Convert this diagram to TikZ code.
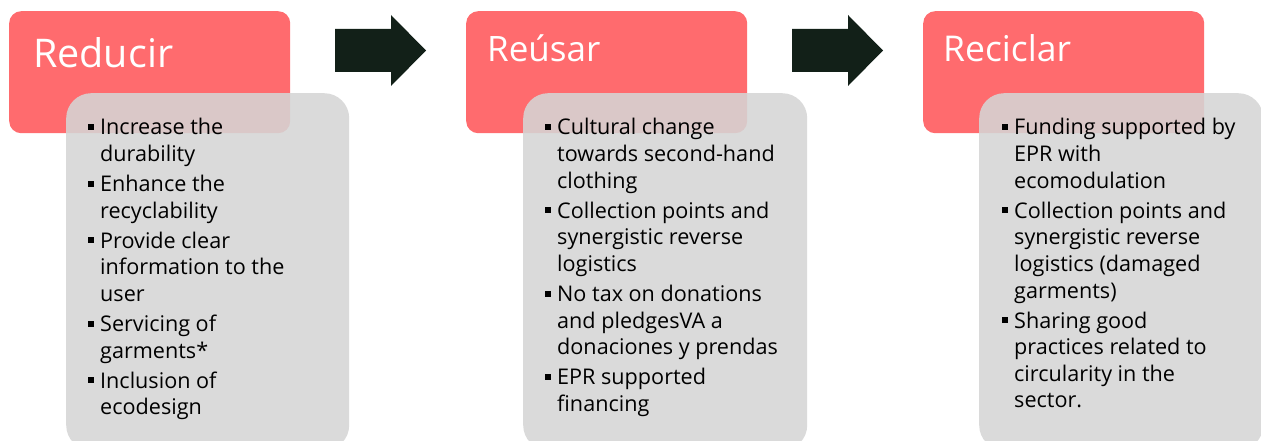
\documentclass[tikz,border=0pt]{standalone}
\usepackage{fontspec}
\setmainfont{Open Sans}
\definecolor{redfill}{RGB}{255,107,110}
\definecolor{grayfill}{RGB}{213,213,213}
\definecolor{arrowcol}{RGB}{18,32,24}
\newcommand{\bul}{\rule[5pt]{6pt}{6pt}}
\newcommand{\itemsfont}{\fontsize{21.6}{26.6}\selectfont}
\begin{document}
\begin{tikzpicture}[x=1pt,y=-1pt,
  redbox/.style={fill=redfill, rounded corners=12pt, anchor=north west, inner sep=0pt, minimum width=281pt, minimum height=122pt},
  graybox/.style={fill=grayfill, fill opacity=0.88, rounded corners=25pt, anchor=north west, inner sep=0pt, minimum width=283pt, minimum height=357pt},
  titletext/.style={text=white, anchor=base west, inner sep=0pt},
  itemtext/.style={text=black, anchor=base west, inner sep=0pt, font=\itemsfont},
  blockarrow/.style={fill=arrowcol}
]
\useasboundingbox (0,0) rectangle (1261,441);
\clip (0,0) rectangle (1261,441);
% red boxes
\node[redbox] (r1) at (9,11) {};
\node[redbox] (r2) at (466,11) {};
\node[redbox] (r3) at (923,11) {};
% titles
\node[titletext, font=\fontsize{39.5}{44}\selectfont] (t1) at (33,68) {Reducir};
\node[titletext, font=\fontsize{35}{42}\selectfont] (t2) at (487,62) {Reúsar};
\node[titletext, font=\fontsize{35.5}{42}\selectfont] (t3) at (943,62) {Reciclar};
% gray boxes
\node[graybox] (g1) at (66,93) {};
\node[graybox, minimum width=284pt] (g2) at (523,93) {};
\node[graybox, minimum width=284pt] (g3) at (979,93) {};
% arrows
\fill[blockarrow] (335,29) -- (391,29) -- (391,15) -- (426,50.5) -- (391,86) -- (391,72) -- (335,72) -- cycle;
\fill[blockarrow] (792,29) -- (848,29) -- (848,15) -- (883,50.5) -- (848,86) -- (848,72) -- (792,72) -- cycle;
% items
\node[itemtext] (l1) at (88,135) {\begin{tabular}[t]{@{}p{12pt}@{}l@{}}
\bul & Increase the\\
 & durability\\[3.5pt]
\bul & Enhance the\\
 & recyclability\\[3.5pt]
\bul & Provide clear\\
 & information to the\\
 & user\\[3.5pt]
\bul & Servicing of\\
 & garments*\\[3.5pt]
\bul & Inclusion of\\
 & ecodesign
\end{tabular}};
\node[itemtext] (l2) at (545,135) {\begin{tabular}[t]{@{}p{12pt}@{}l@{}}
\bul & Cultural change\\
 & towards second-hand\\
 & clothing\\[3.5pt]
\bul & Collection points and\\
 & synergistic reverse\\
 & logistics\\[3.5pt]
\bul & No tax on donations\\
 & and pledgesVA a\\
 & donaciones y prendas\\[3.5pt]
\bul & EPR supported\\
 & financing
\end{tabular}};
\node[itemtext] (l3) at (1002,135) {\begin{tabular}[t]{@{}p{12pt}@{}l@{}}
\bul & Funding supported by\\
 & EPR with\\
 & ecomodulation\\[3.5pt]
\bul & Collection points and\\
 & synergistic reverse\\
 & logistics (damaged\\
 & garments)\\[3.5pt]
\bul & Sharing good\\
 & practices related to\\
 & circularity in the\\
 & sector.
\end{tabular}};
\end{tikzpicture}
\end{document}
